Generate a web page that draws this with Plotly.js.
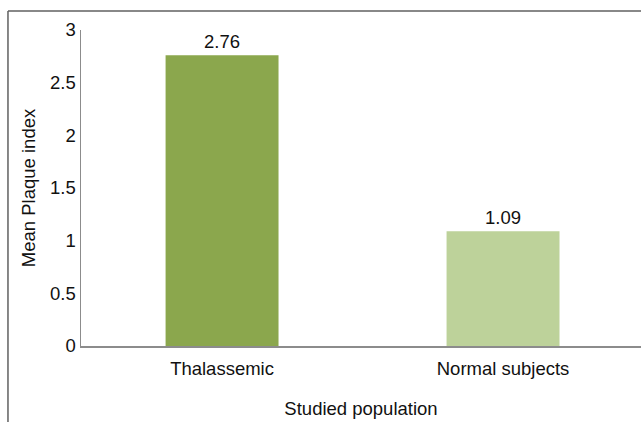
<!DOCTYPE html>
<html>
<head>
<meta charset="utf-8">
<script src="https://cdn.plot.ly/plotly-3.0.1.min.js"></script>
<style>html,body{margin:0;padding:0;background:#fff;}#chart{width:641px;height:423px;}</style>
</head>
<body>
<div id="chart"></div>
<script>
const categories = ["Thalassemic", "Normal subjects"];
const values = [2.76, 1.09];
const valueLabels = ["2.76", "1.09"];
const barColors = ["#8ba74d", "#bdd29a"];
const yTickVals = [0, 0.5, 1, 1.5, 2, 2.5, 3];
const yTickText = ["0", "0.5", "1", "1.5", "2", "2.5", "3"];

const font = {family: "Liberation Sans, Arial, sans-serif", size: 18.5, color: "#111111"};

const trace = {
  type: "bar",
  x: categories,
  y: values,
  text: valueLabels,
  textposition: "outside",
  cliponaxis: false,
  textfont: font,
  marker: {color: barColors, line: {width: 0}},
  width: 0.402,
  hoverinfo: "none"
};

const layout = {
  width: 641,
  height: 423,
  margin: {l: 81, r: 0, t: 30, b: 77},
  paper_bgcolor: "#ffffff",
  plot_bgcolor: "#ffffff",
  font: font,
  showlegend: false,
  xaxis: {
    range: [-0.502, 1.491],
    showline: true,
    linecolor: "#8c8c8c",
    linewidth: 1.5,
    showgrid: false,
    zeroline: false,
    ticks: "",
    ticklabelstandoff: 5,
    tickfont: font,
    title: {text: "Studied population", font: font, standoff: 24}
  },
  yaxis: {
    range: [0, 3],
    tickvals: yTickVals,
    ticktext: yTickText,
    showline: true,
    linecolor: "#8c8c8c",
    linewidth: 1.5,
    showgrid: false,
    zeroline: false,
    ticks: "",
    tickfont: font,
    title: {text: "Mean Plaque index", font: font, standoff: 9}
  },
  shapes: [
    {type: "line", xref: "paper", yref: "paper", x0: -0.1304, x1: -0.1304, y0: -0.2405, y1: 1.0601, line: {color: "#606060", width: 1.5}},
    {type: "line", xref: "paper", yref: "paper", x0: -0.1304, x1: 1.02, y0: 1.0601, y1: 1.0601, line: {color: "#606060", width: 1.5}}
  ]
};

Plotly.newPlot("chart", [trace], layout, {displayModeBar: false, staticPlot: true});
</script>
</body>
</html>
